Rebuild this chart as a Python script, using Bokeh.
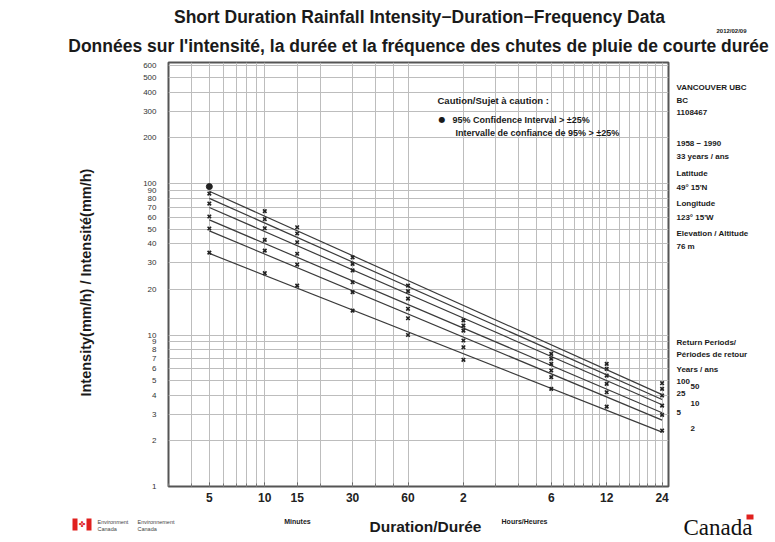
import numpy as np
from bokeh.plotting import figure
from bokeh.models import FixedTicker, Range1d
from bokeh.layouts import column, row
from bokeh.core.properties import value
from bokeh.embed import file_html
from bokeh.resources import INLINE

# ---------------- data ----------------
durations = [5, 10, 15, 30, 60, 120, 360, 720, 1440]          # minutes
return_periods = [2, 5, 10, 25, 50, 100]                        # years
i_2yr = [35.0, 25.6, 21.2, 14.5, 10.0, 6.86, 4.41, 3.37, 2.34]
i_5yr = [50.5, 36.1, 29.2, 19.2, 12.9, 8.31, 5.27, 4.19, 2.97]
i_10yr = [60.6, 42.5, 34.4, 22.3, 14.9, 9.20, 5.83, 4.76, 3.42]
i_25yr = [73.8, 50.7, 41.0, 26.7, 17.4, 10.7, 6.45, 5.40, 3.99]
i_50yr = [85.9, 58.3, 46.8, 29.5, 19.5, 11.55, 6.97, 5.98, 4.41]
i_100yr = [95.5, 65.8, 51.5, 32.6, 21.2, 12.5, 7.51, 6.45, 4.81]
series = [i_2yr, i_5yr, i_10yr, i_25yr, i_50yr, i_100yr]

# points whose 95% confidence interval exceeds +/-25%
ci_duration = [5]
ci_value = [95.5]

x_tick_values = [5, 10, 15, 30, 60, 120, 360, 720, 1440]
x_tick_labels = ["5", "10", "15", "30", "60", "2", "6", "12", "24"]
x_grid_values = [3, 4, 5, 6, 7, 8, 9, 10, 15, 20, 30, 40, 50, 60,
                 120, 180, 240, 300, 360, 420, 480, 540, 600, 660, 720,
                 840, 960, 1080, 1200, 1320, 1440]
y_tick_values = [1, 2, 3, 4, 5, 6, 7, 8, 9, 10, 20, 30, 40, 50, 60, 70, 80, 90,
                 100, 200, 300, 400, 500, 600]

station_lines = ["VANCOUVER UBC", "BC", "1108467", "1958 \u2212 1990",
                 "33 years / ans", "Latitude", "49\u00b0 15'N", "Longitude",
                 "123\u00b0 15'W", "Elevation / Altitude", "76 m"]
station_y = [87, 100, 112, 143, 156, 173, 187, 203, 217, 233, 246]   # page px

FONT = "Liberation Sans"
INK = "#1a1a1a"

# ---------------- geometry (page pixels) ----------------
PAGE_W, PAGE_H = 775, 542
HEAD_H = 60
MAIN_W = 670
MAIN_H = 452
FOOT_H = PAGE_H - HEAD_H - MAIN_H
FL, FT, FW, FH = 168, 62, 500, 424          # plot frame
X0, X1 = 3, 1560
Y0, Y1 = 1, 630
LX0, LX1 = np.log10(X0), np.log10(X1)
LY0, LY1 = np.log10(Y0), np.log10(Y1)


def dx(px):
    return 10 ** (LX0 + (px - FL) / FW * (LX1 - LX0))


def dy(py):
    return 10 ** (LY1 - (py - FT) / FH * (LY1 - LY0))


def blank(w, h, xr, yr, **kw):
    f = figure(width=w, height=h, x_range=xr, y_range=yr, output_backend="svg",
               toolbar_location=None, title=None, min_border=0,
               x_axis_location=None, y_axis_location=None, **kw)
    f.grid.visible = False
    f.outline_line_color = None
    f.background_fill_color = "white"
    f.border_fill_color = "white"
    return f


def txt(f, x, y, s, size, bold=True, align="left", font=FONT, color=INK,
        angle=0.0, yoff=0):
    f.text(x=[x], y=[y], text=[s], text_font=value(font),
           text_font_size=value(size),
           text_font_style="bold" if bold else "normal",
           text_align=align, text_baseline="middle", text_color=color,
           angle=angle, y_offset=yoff)


# ---------------- header ----------------
head = blank(PAGE_W, HEAD_H, Range1d(0, PAGE_W), Range1d(HEAD_H, 0))
txt(head, 419, 16, "Short Duration Rainfall Intensity\u2212Duration\u2212Frequency Data",
    "17.5px", align="center")
txt(head, 731, 30, "2012/02/09", "6px", align="center")
txt(head, 418, 45,
    "Donn\u00e9es sur l'intensit\u00e9, la dur\u00e9e et la fr\u00e9quence des chutes de pluie de courte dur\u00e9e",
    "17.5px", align="center")

# ---------------- main plot ----------------
p = figure(width=MAIN_W, height=MAIN_H, x_axis_type="log", y_axis_type="log",
           x_range=Range1d(X0, X1), y_range=Range1d(Y0, Y1),
           output_backend="svg", toolbar_location=None, title=None,
           min_border_left=FL, min_border_right=MAIN_W - FL - FW,
           min_border_top=FT - HEAD_H, min_border_bottom=MAIN_H - (FT - HEAD_H) - FH)
p.background_fill_color = "white"
p.border_fill_color = "white"
p.outline_line_color = "#555555"
p.outline_line_width = 2

p.xgrid.ticker = FixedTicker(ticks=x_grid_values)
p.ygrid.ticker = FixedTicker(ticks=y_tick_values)
for g in (p.xgrid, p.ygrid):
    g.grid_line_color = "#bdbdbd"
    g.grid_line_width = 1

xa = p.xaxis[0]
xa.ticker = FixedTicker(ticks=x_tick_values, minor_ticks=x_grid_values)
xa.major_label_overrides = {v: s for v, s in zip(x_tick_values, x_tick_labels)}
xa.axis_line_color = None
xa.major_tick_in = 4
xa.major_tick_out = 0
xa.minor_tick_in = 3
xa.minor_tick_out = 0
xa.major_tick_line_color = "#555555"
xa.minor_tick_line_color = "#777777"
xa.major_label_standoff = 6
xa.major_label_text_font = FONT
xa.major_label_text_font_style = "bold"
xa.major_label_text_font_size = "12px"
xa.major_label_text_color = "#222222"

ya = p.yaxis[0]
ya.ticker = FixedTicker(ticks=y_tick_values)
ya.axis_line_color = None
ya.major_tick_line_color = None
ya.minor_tick_line_color = None
ya.major_tick_out = 0
ya.major_label_standoff = 12
ya.major_label_text_font = FONT
ya.major_label_text_font_size = "8px"
ya.major_label_text_color = "#333333"
ya.axis_label = "Intensity(mm/h) / Intensit\u00e9(mm/h)" + "\u00a0" * 4
ya.axis_label_text_font = FONT
ya.axis_label_text_font_style = "bold"
ya.axis_label_text_font_size = "14.5px"
ya.axis_label_text_color = INK
ya.axis_label_standoff = 46

for vals in series:
    a, b = np.polyfit(np.log10(durations), np.log10(vals), 1)
    xs = np.array([durations[0], durations[-1]], dtype=float)
    ys = 10 ** (b + a * np.log10(xs))
    p.line(xs, ys, line_color="#3a3a3a", line_width=1.2)
    p.scatter(durations, vals, marker="x", size=5, line_color="#222222",
              line_width=1.6)

p.scatter(ci_duration, ci_value, marker="circle", size=6, fill_color="#222222",
          line_color="#222222")

# caution note inside the frame
txt(p, dx(437), dy(100), "Caution/Sujet \u00e0 caution :", "9.5px")
txt(p, dx(438), dy(119), "\u25cf", "8px", font="DejaVu Sans")
txt(p, dx(452), dy(119), "95% Confidence Interval > \u00b125%", "9px")
txt(p, dx(455), dy(132), "Intervalle de confiance de 95% > \u00b125%", "9px")

# ---------------- right-hand notes ----------------
RX = MAIN_W
side = blank(PAGE_W - MAIN_W, MAIN_H, Range1d(0, PAGE_W - MAIN_W), p.y_range,
             y_axis_type="log")
side.min_border_top = FT - HEAD_H
side.min_border_bottom = MAIN_H - (FT - HEAD_H) - FH
for s, yy in zip(station_lines, station_y):
    txt(side, 676 - RX, dy(yy), s, "8px")
txt(side, 676 - RX, dy(342), "Return Periods/", "8px")
txt(side, 676 - RX, dy(354), "P\u00e9riodes de retour", "8px")
txt(side, 676 - RX, dy(369), "Years / ans", "8px")
for k, (rp, vals) in enumerate(zip(return_periods, series)):
    px = 690 if k % 2 == 0 else 676
    txt(side, px - RX, vals[-1], str(rp), "8px", yoff=-2)

# ---------------- footer ----------------
FY = HEAD_H + MAIN_H
foot = blank(PAGE_W, FOOT_H, Range1d(0, PAGE_W), Range1d(FOOT_H, 0))
txt(foot, 297, 521 - FY, "Minutes", "7px", align="center")
txt(foot, 425, 526 - FY, "Duration/Dur\u00e9e", "15.5px", align="center")
txt(foot, 524, 521 - FY, "Hours/Heures", "7px", align="center")
# Environment Canada signature
foot.quad(left=[72, 86], right=[77, 91], top=[518 - FY, 518 - FY],
          bottom=[530 - FY, 530 - FY], fill_color="#e0201e", line_color=None)
txt(foot, 81.5, 524 - FY, "\u2724", "8px", bold=False, align="center",
    font="DejaVu Sans", color="#e0201e")
txt(foot, 97, 521 - FY, "Environment", "5.5px", bold=False, color="#444444")
txt(foot, 97, 528 - FY, "Canada", "5.5px", bold=False, color="#444444")
txt(foot, 137, 521 - FY, "Environnement", "5.5px", bold=False, color="#444444")
txt(foot, 137, 528 - FY, "Canada", "5.5px", bold=False, color="#444444")
# Canada wordmark
txt(foot, 683, 527 - FY, "Canada", "23px", bold=False, font="Liberation Serif",
    color="#111111")
foot.quad(left=[746], right=[753], top=[514 - FY], bottom=[519 - FY],
          fill_color="#e0201e", line_color=None)

layout = column(head, row(p, side, spacing=0), foot, spacing=0)
open("out.html", "w").write(file_html(layout, INLINE))
